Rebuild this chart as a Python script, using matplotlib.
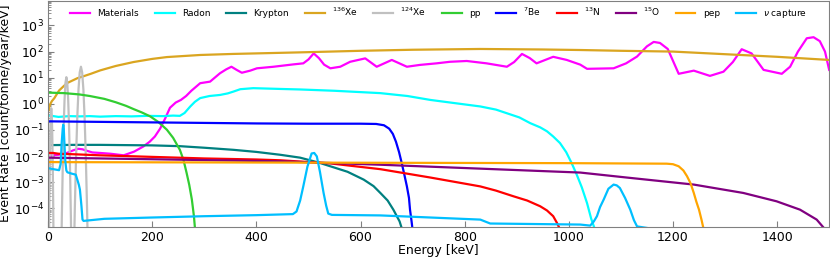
import numpy as np
import matplotlib
matplotlib.use('Agg')
import matplotlib.pyplot as plt

# Energies in keV, rates stored as log10(count/tonne/year/keV)
mat_E = [0, 20, 36, 48, 58, 66, 75, 85, 100, 120, 145, 165, 183, 195, 205, 215, 225, 234,
         245, 255, 265, 275, 292, 311, 330, 342, 352, 362, 372, 388, 401, 433, 471, 490,
         500, 510, 520, 530, 542, 561, 580, 609, 631, 660, 689, 714, 746, 772, 804, 842,
         881, 895, 910, 925, 938, 970, 996, 1022, 1035, 1086, 1110, 1131, 1150, 1163, 1175,
         1190, 1211, 1240, 1271, 1297, 1315, 1332, 1351, 1374, 1409, 1425, 1440, 1457,
         1470, 1482, 1492, 1500]
mat_log = [-1.98, -1.95, -1.88, -1.78, -1.72, -1.74, -1.80, -1.86, -1.88, -1.91, -1.97,
           -1.83, -1.63, -1.45, -1.25, -0.95, -0.55, -0.15, 0.05, 0.15, 0.30, 0.50, 0.79,
           0.85, 1.17, 1.32, 1.42, 1.30, 1.19, 1.27, 1.36, 1.42, 1.51, 1.55, 1.70, 1.93,
           1.75, 1.50, 1.36, 1.42, 1.61, 1.74, 1.42, 1.68, 1.42, 1.49, 1.55, 1.61, 1.64,
           1.55, 1.42, 1.60, 1.91, 1.75, 1.55, 1.80, 1.68, 1.50, 1.34, 1.36, 1.55, 1.81,
           2.20, 2.37, 2.33, 2.10, 1.15, 1.27, 1.07, 1.23, 1.60, 2.09, 1.93, 1.30, 1.15,
           1.42, 2.00, 2.51, 2.55, 2.40, 2.00, 1.30]

rn_E = [0, 10, 20, 40, 60, 80, 100, 130, 160, 190, 220, 240, 253, 262, 273, 282, 292, 310,
        330, 345, 356, 369, 394, 446, 484, 550, 638, 690, 734, 780, 830, 860, 881, 905,
        926, 945, 958, 970, 983, 995, 1005, 1015, 1025, 1035, 1043, 1050, 1055]
rn_log = [-0.45, -0.47, -0.50, -0.47, -0.48, -0.47, -0.49, -0.47, -0.48, -0.46, -0.47,
          -0.45, -0.46, -0.35, -0.10, 0.08, 0.22, 0.30, 0.34, 0.40, 0.47, 0.56, 0.60, 0.57,
          0.55, 0.50, 0.41, 0.30, 0.15, 0.03, -0.10, -0.22, -0.36, -0.52, -0.74, -0.90,
          -1.05, -1.25, -1.50, -1.85, -2.25, -2.70, -3.20, -3.80, -4.40, -4.80, -5.50]

kr_E = [0, 50, 100, 150, 200, 253, 300, 356, 400, 446, 484, 520, 542, 575, 606, 625, 638,
        652, 663, 675, 686]
kr_log = [-1.58, -1.57, -1.57, -1.58, -1.59, -1.62, -1.68, -1.76, -1.84, -1.95, -2.06,
          -2.25, -2.39, -2.60, -2.90, -3.15, -3.41, -3.70, -4.05, -4.50, -5.20]

xe136_E = [1, 3, 7, 12, 21, 30, 37, 56, 67, 82, 100, 130, 164, 200, 228, 292, 355, 420,
           484, 600, 700, 830, 950, 1022, 1100, 1200, 1300, 1400, 1500]
xe136_log = [-0.25, -0.05, 0.10, 0.22, 0.51, 0.68, 0.80, 0.98, 1.05, 1.15, 1.28, 1.45,
             1.60, 1.72, 1.79, 1.87, 1.91, 1.94, 1.97, 2.03, 2.07, 2.10, 2.08, 2.06, 2.03,
             2.00, 1.90, 1.80, 1.68]

xe124_E = [0, 1.5, 2.4, 3.3, 4.2, 5.1, 6.0, 6.9, 7.8, 8.7, 9.6, 10.5, 11,
           25.4, 26.25, 28, 29.75, 31.5, 33.25, 35, 36.75, 38.5, 40.25, 42, 43.75, 44.6,
           50.1, 51.25, 53.6, 55.95, 58.3, 60.65, 63, 65.35, 67.7, 70.05, 72.4, 74.75, 75.9,
           80]
xe124_log = [-6, -5.6, -3.64, -2.12, -1.04, -0.39, -0.17, -0.39, -1.04, -2.12, -3.64, -5.6, -6,
             -5.55, -4.41, -2.45, -0.93, 0.15, 0.80, 1.02, 0.80, 0.15, -0.93, -2.45, -4.41, -5.55,
             -5.15, -4.01, -2.05, -0.53, 0.55, 1.20, 1.42, 1.20, 0.55, -0.53, -2.05, -4.01, -5.15,
             -6]

pp_E = [0, 31, 60, 80, 108, 130, 150, 164, 180, 196, 212, 228, 240, 253, 260, 266, 271,
        276, 280, 283]
pp_log = [0.43, 0.41, 0.36, 0.30, 0.19, 0.06, -0.08, -0.20, -0.33, -0.48, -0.70, -0.99,
          -1.30, -1.76, -2.15, -2.65, -3.10, -3.66, -4.30, -5.00]

be7_E = [0, 100, 200, 300, 400, 500, 600, 630, 645, 655, 662, 668, 674, 679, 684, 689,
         693, 695, 698, 701]
be7_log = [-0.67, -0.69, -0.71, -0.73, -0.75, -0.76, -0.76, -0.77, -0.82, -0.95, -1.15,
           -1.45, -1.85, -2.26, -2.70, -3.16, -3.60, -4.05, -4.50, -5.00]

n13_E = [0, 10, 20, 50, 100, 200, 300, 400, 446, 542, 638, 734, 830, 860, 894, 920, 945,
         958, 970, 977, 983, 986]
n13_log = [-1.88, -1.88, -1.91, -1.93, -1.97, -2.03, -2.09, -2.13, -2.16, -2.28, -2.50,
           -2.82, -3.16, -3.32, -3.54, -3.70, -3.92, -4.08, -4.30, -4.55, -4.80, -5.00]

o15_E = [0, 200, 446, 638, 830, 1022, 1111, 1240, 1335, 1399, 1444, 1476, 1492, 1500]
o15_log = [-2.06, -2.12, -2.20, -2.33, -2.48, -2.63, -2.82, -3.09, -3.41, -3.73, -4.05,
           -4.43, -4.80, -5.20]

pep_E = [0, 500, 1000, 1188, 1200, 1211, 1220, 1227, 1234, 1240, 1245, 1250, 1255, 1260]
pep_log = [-2.23, -2.25, -2.27, -2.29, -2.31, -2.39, -2.55, -2.77, -3.05, -3.41, -3.75,
           -4.05, -4.45, -4.90]

nucap_E = [0, 10, 21, 24, 26, 28, 29, 30, 31.5, 33, 35, 37, 45, 53, 56, 59, 61, 63, 64,
           66, 68, 108, 200, 300, 400, 470, 477, 484, 490, 498, 506, 511, 516, 522, 529,
           534, 538, 545, 638, 830, 849, 1022, 1041, 1048, 1054, 1060, 1067, 1076, 1086,
           1092, 1098, 1108, 1118, 1125, 1131, 1160, 1200]
nucap_log = [-2.46, -2.50, -2.54, -2.30, -1.50, -0.95, -0.80, -0.95, -1.60, -2.20, -2.55,
             -2.62, -2.67, -2.71, -2.90, -3.10, -3.28, -3.70, -3.92, -4.43, -4.48, -4.40,
             -4.35, -4.30, -4.26, -4.22, -4.12, -3.70, -3.16, -2.40, -1.90, -1.88, -2.01,
             -2.60, -3.41, -3.90, -4.20, -4.25, -4.27, -4.43, -4.58, -4.62, -4.66, -4.50,
             -4.30, -3.95, -3.66, -3.25, -3.09, -3.12, -3.22, -3.60, -4.05, -4.45, -4.69,
             -4.78, -4.85]

series = [
    ('Materials', mat_E, mat_log, 'magenta'),
    ('Radon', rn_E, rn_log, 'cyan'),
    ('Krypton', kr_E, kr_log, 'teal'),
    (r'$^{136}$Xe', xe136_E, xe136_log, 'goldenrod'),
    (r'$^{124}$Xe', xe124_E, xe124_log, 'silver'),
    ('pp', pp_E, pp_log, 'limegreen'),
    (r'$^{7}$Be', be7_E, be7_log, 'blue'),
    (r'$^{13}$N', n13_E, n13_log, 'red'),
    (r'$^{15}$O', o15_E, o15_log, 'purple'),
    ('pep', pep_E, pep_log, 'orange'),
    (r'$\nu$ capture', nucap_E, nucap_log, 'deepskyblue'),
]

fig = plt.figure(figsize=(8.3, 2.59), dpi=100)
ax = fig.add_axes([0.058, 0.125, 0.941, 0.873])

for name, E, lg, col in series:
    ax.plot(E, 10 ** np.array(lg), color=col, lw=1.6, label=name)

ax.set_yscale('log')
ax.set_xlim(0, 1500)
ax.set_ylim(2e-5, 9e3)
ax.set_xticks([0, 200, 400, 600, 800, 1000, 1200, 1400])
ax.set_yticks([1e-4, 1e-3, 1e-2, 1e-1, 1, 10, 100, 1000])
ax.set_xlabel('Energy [keV]', fontsize=9, labelpad=0)
ax.set_ylabel('Event Rate [count/tonne/year/keV]', fontsize=9, labelpad=1)

for s in ax.spines.values():
    s.set_color('#808080')
ax.tick_params(which='both', direction='in', color='#808080', labelsize=9, pad=3)
ax.tick_params(which='major', length=4)
ax.tick_params(which='minor', length=2)
ax.tick_params(axis='x', which='minor', bottom=False)

ax.legend(loc='upper center', ncol=11, frameon=False, fontsize=6.5,
          handlelength=2.2, columnspacing=1.75, borderaxespad=0.2)

fig.savefig('out.png', dpi=100)
